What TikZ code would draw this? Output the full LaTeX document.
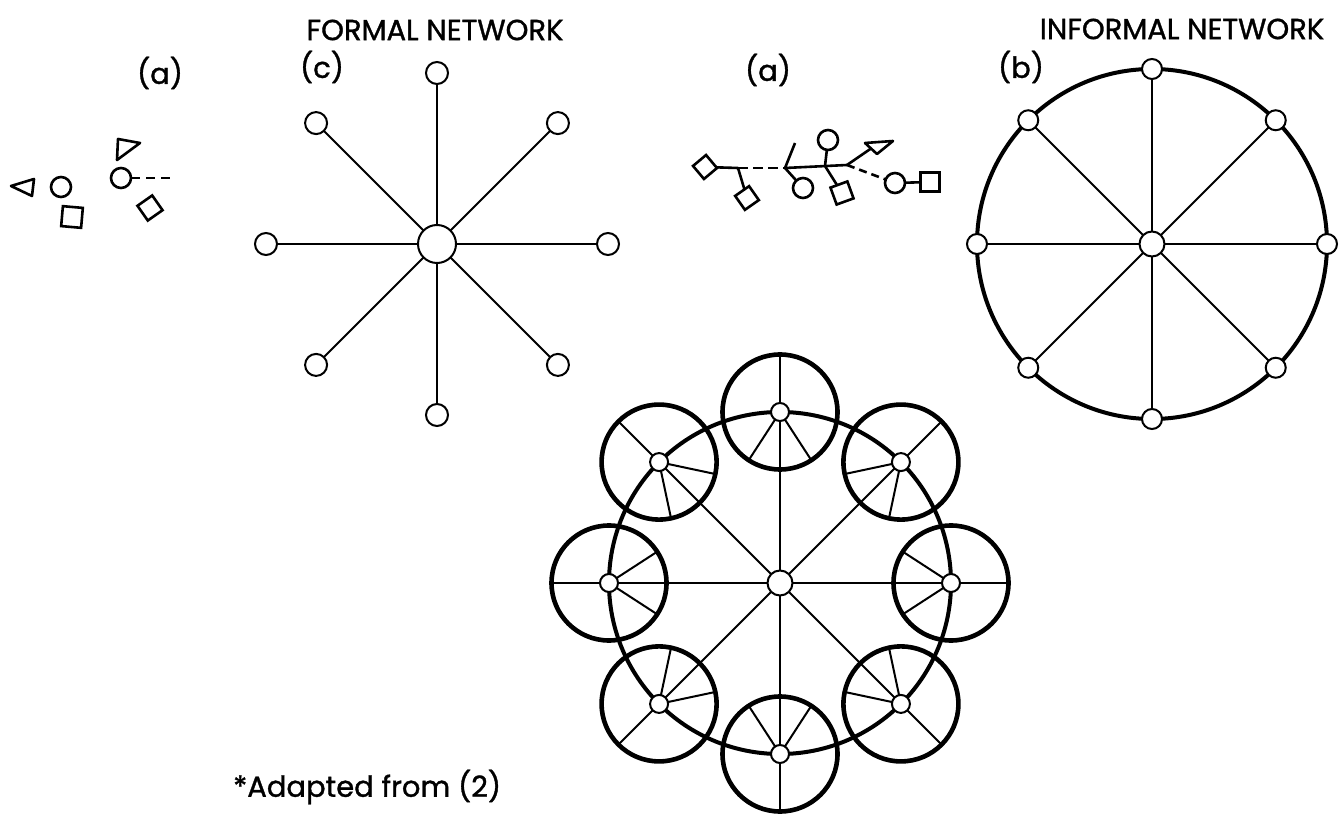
\documentclass[tikz,border=0pt]{standalone}
\usepackage{fontspec}
\setmainfont{Poppins}[FakeBold=1.2]
\usetikzlibrary{shapes.geometric,calc}
\begin{document}
\begin{tikzpicture}[x=1pt,y=1pt,
  dot/.style={circle,draw,line width=2pt,fill=white,inner sep=0pt,outer sep=0pt,minimum size=#1},
  dot/.default=20pt,
  sat/.style={circle,draw,line width=4.6pt,inner sep=0pt,outer sep=0pt,minimum size=115pt},
  spoke/.style={line width=2pt},
  rim/.style={line width=4pt},
  sq/.style={rectangle,draw,line width=2.6pt,fill=white,inner sep=0pt,outer sep=0pt,minimum size=#1},
  sdot/.style={circle,draw,line width=2.6pt,fill=white,inner sep=0pt,outer sep=0pt,minimum size=#1},
  shp/.style={line width=2.6pt,line join=round},
  lbl/.style={font=\fontsize{29}{29}\selectfont,inner sep=0pt}
]
\useasboundingbox[fill=white] (0,0) rectangle (1339,815);

% ---------- labels ----------
\node[lbl] (tf) at (435,785) {FORMAL NETWORK};
\node[lbl] (ti) at (1182,786) {INFORMAL NETWORK};
\node[lbl] (la1) at (160,742) {(a)};
\node[lbl] (lc) at (322,748) {(c)};
\node[lbl] (la2) at (768,745) {(a)};
\node[lbl] (lb) at (1021,748) {(b)};
\node[lbl,anchor=west] (src) at (233,28) {*Adapted from (2)};

% ---------- left (a): isolated individuals ----------
\draw[shp] (11,629) -- (34,636) -- (32,619) -- cycle;
\node[sdot=20pt] (lc1) at (61,628) {};
\node[sq=20pt,rotate=-5] (lsq1) at (72,598) {};
\draw[shp] (118,676) -- (140,672) -- (117,655) -- cycle;
\node[sdot=20pt] (lc2) at (121,637) {};
\coordinate (ldash) at (174,637);
\draw[shp,dash pattern=on 9pt off 6pt] (lc2) -- (ldash);
\node[sq=18pt,rotate=35] (lsq2) at (150,607) {};

% ---------- informal (a): chain ----------
\node[sq=17pt,rotate=40] (sqA) at (705,648) {};
\coordinate (J1) at (738,647);
\node[sq=17pt,rotate=35] (sqB) at (747,617) {};
\coordinate (J2) at (785,647);
\coordinate (Jup) at (795,672);
\node[sdot=20pt] (cA) at (803,627) {};
\coordinate (Jm) at (825,649);
\node[sdot=20pt] (cB) at (828,675) {};
\node[sq=18pt,rotate=20] (sqC) at (842,622) {};
\coordinate (J3) at (847,650);
\coordinate (T1) at (865,672);
\coordinate (T2) at (893,674);
\coordinate (T3) at (877,661);
\node[sdot=20pt] (cC) at (895,632) {};
\node[sq=19pt] (sqD) at (930,633) {};
\draw[shp] (sqA) -- (J1) -- (sqB);
\draw[shp,dash pattern=on 10pt off 5pt] (J1) -- (J2);
\draw[shp] (Jup) -- (J2) -- (J3);
\draw[shp] (J2) -- (cA);
\draw[shp] (Jm) -- (cB);
\draw[shp] (Jm) -- (sqC);
\draw[shp] (J3) -- ($(T1)!0.5!(T3)$);
\draw[shp] (T1) -- (T2) -- (T3) -- cycle;
\draw[shp,dash pattern=on 8pt off 5pt] (J3) -- (cC);
\draw[shp] (cC) -- (sqD);

% ---------- formal network (c) ----------
\node[dot=38pt] (fc) at (437,571) {};
\foreach \a in {0,45,...,315} {
  \node[dot=22pt] (f\a) at ($(fc)+(\a:171)$) {};
  \draw[spoke] (fc) -- (f\a);
}

% ---------- informal network (b) ----------
\coordinate (icc) at (1152,571);
\draw[rim] (icc) circle (175);
\node[dot=25pt] (ic) at (icc) {};
\foreach \a in {0,45,...,315} {
  \node[dot=20pt] (i\a) at ($(icc)+(\a:175)$) {};
  \draw[spoke] (ic) -- (i\a);
}

% ---------- combined network ----------
\coordinate (bc) at (780,232);
\draw[rim] (bc) circle (171);
\foreach \a in {0,45,...,315} {
  \node[sat] (s\a) at ($(bc)+(\a:171)$) {};
}
\node[dot=25pt] (bcn) at (bc) {};
\foreach \a in {0,45,...,315} {
  \node[dot=18pt] (b\a) at ($(bc)+(\a:171)$) {};
  \pgfmathtruncatemacro\p{mod(\a+213,360)}
  \pgfmathtruncatemacro\q{mod(\a+147,360)}
  \draw[spoke] (bcn) -- (b\a);
  \draw[spoke] (b\a) -- (s\a.\a);
  \draw[spoke] (b\a) -- (s\a.\p);
  \draw[spoke] (b\a) -- (s\a.\q);
}
\end{tikzpicture}
\end{document}
